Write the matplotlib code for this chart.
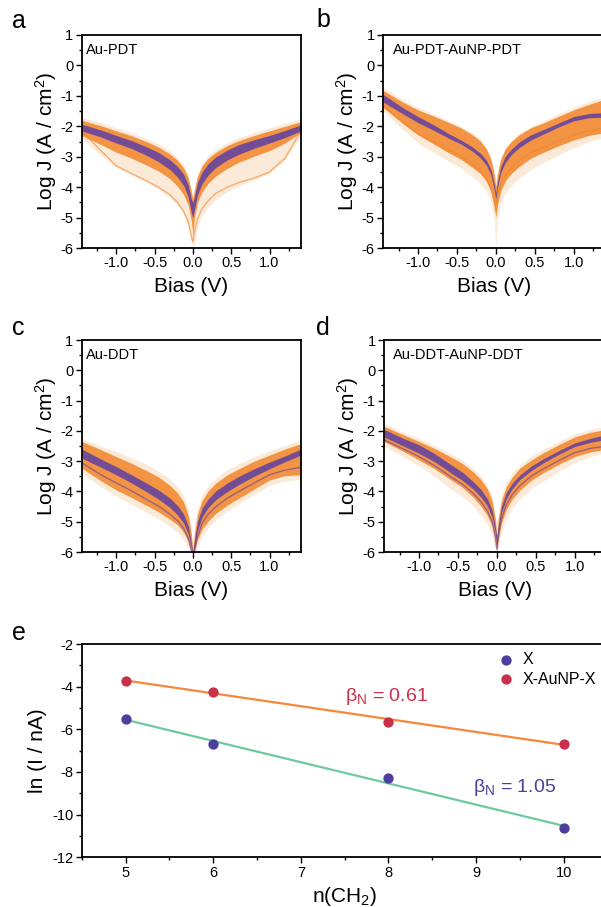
"""J-V 밀도 패널 4개 + ln(I) vs n(CH2) 패널 재현."""
import numpy as np
import matplotlib
matplotlib.use("Agg")
import matplotlib.pyplot as plt
from matplotlib.ticker import MultipleLocator

plt.rcParams["font.family"] = ["Liberation Sans", "DejaVu Sans"]
plt.rcParams["mathtext.fontset"] = "custom"
plt.rcParams["mathtext.rm"] = "Liberation Sans"
plt.rcParams["mathtext.it"] = "Liberation Sans:italic"
plt.rcParams["axes.unicode_minus"] = False

W, H = 601, 907

# ---- J-V 데이터 (그림에서 읽은 값, log J) ----
BIAS = [-1.45, -1.2, -1.0, -0.8, -0.6, -0.45, -0.3, -0.2, -0.12, -0.06, -0.02, 0.0,
        0.02, 0.06, 0.12, 0.2, 0.3, 0.45, 0.6, 0.8, 1.0, 1.2, 1.41]

# Au-PDT
A_HALO_HI = [-1.70, -1.88, -2.05, -2.21, -2.41, -2.58, -2.81, -3.02, -3.27, -3.60, -4.05, -4.3,
             -4.0, -3.55, -3.2, -2.95, -2.75, -2.53, -2.37, -2.2, -2.05, -1.9, -1.75]
A_BAND_HI = [-1.80, -1.98, -2.15, -2.31, -2.51, -2.68, -2.91, -3.12, -3.37, -3.70, -4.15, -4.4,
             -4.1, -3.65, -3.3, -3.05, -2.85, -2.63, -2.47, -2.3, -2.15, -2.0, -1.85]
A_CORE_HI = [-1.93, -2.12, -2.30, -2.47, -2.68, -2.86, -3.10, -3.32, -3.58, -3.93, -4.4, -4.5,
             -4.3, -3.85, -3.5, -3.23, -3.0, -2.78, -2.6, -2.44, -2.3, -2.14, -1.95]
A_CORE_LO = [-2.15, -2.35, -2.55, -2.73, -2.96, -3.16, -3.42, -3.67, -3.95, -4.33, -4.85, -5.0,
             -4.75, -4.25, -3.88, -3.6, -3.35, -3.1, -2.92, -2.72, -2.55, -2.37, -2.15]
A_BAND_LO = [-2.3, -2.6, -2.85, -3.05, -3.28, -3.47, -3.72, -3.97, -4.25, -4.6, -5.1, -5.6,
             -5.0, -4.5, -4.15, -3.87, -3.63, -3.38, -3.18, -2.98, -2.8, -2.55, -2.2]
A_HALO_LO = [-2.4, -2.95, -3.35, -3.6, -3.85, -4.05, -4.35, -4.6, -4.9, -5.3, -5.8, -6.0,
             -5.8, -5.3, -4.95, -4.65, -4.4, -4.15, -3.95, -3.75, -3.55, -3.1, -2.3]
A_LOW = [-2.15, -2.8, -3.3, -3.55, -3.8, -4.0, -4.25, -4.5, -4.8, -5.15, -5.6, -5.8,
         -5.5, -5.05, -4.7, -4.45, -4.2, -4.0, -3.85, -3.7, -3.5, -3.05, -2.15]

# Au-PDT-AuNP-PDT
B_HALO_HI = [-0.72, -1.12, -1.38, -1.6, -1.82, -2.0, -2.22, -2.42, -2.7, -3.05, -3.5, -3.8,
             -3.5, -3.05, -2.7, -2.45, -2.22, -2.0, -1.83, -1.6, -1.38, -1.18, -1.02]
B_BAND_HI = [-0.82, -1.2, -1.46, -1.66, -1.88, -2.05, -2.28, -2.48, -2.75, -3.1, -3.6, -4.0,
             -3.6, -3.1, -2.75, -2.5, -2.28, -2.05, -1.9, -1.68, -1.46, -1.28, -1.1]
B_CORE_HI = [-0.95, -1.38, -1.68, -1.95, -2.25, -2.45, -2.68, -2.88, -3.12, -3.45, -3.9, -4.2,
             -3.85, -3.35, -3.0, -2.75, -2.52, -2.28, -2.12, -1.9, -1.68, -1.58, -1.55]
B_CORE_LO = [-1.2, -1.58, -1.88, -2.13, -2.4, -2.58, -2.82, -3.03, -3.28, -3.62, -4.1, -4.4,
             -4.05, -3.55, -3.2, -2.93, -2.7, -2.45, -2.27, -2.03, -1.82, -1.72, -1.7]
B_BAND_LO = [-1.38, -1.9, -2.28, -2.58, -2.88, -3.08, -3.35, -3.55, -3.82, -4.15, -4.6, -5.0,
             -4.6, -4.15, -3.8, -3.55, -3.32, -3.05, -2.87, -2.65, -2.45, -2.3, -2.2]
B_HALO_LO = [-1.5, -2.1, -2.55, -2.85, -3.15, -3.38, -3.65, -3.88, -4.15, -4.5, -5.1, -6.0,
             -5.1, -4.55, -4.2, -3.95, -3.7, -3.42, -3.2, -2.95, -2.7, -2.5, -2.35]
B_LOW = [-1.3, -1.85, -2.25, -2.5, -2.78, -2.98, -3.25, -3.45, -3.72, -4.05, -4.5, -4.8,
         -4.4, -3.95, -3.6, -3.35, -3.13, -2.87, -2.7, -2.48, -2.28, -2.15, -2.05]

# Au-DDT
C_HALO_HI = [-2.25, -2.5, -2.68, -2.88, -3.12, -3.32, -3.6, -3.85, -4.15, -4.6, -5.2, -5.8,
             -5.2, -4.55, -4.1, -3.8, -3.55, -3.28, -3.08, -2.85, -2.65, -2.48, -2.3]
C_BAND_HI = [-2.35, -2.62, -2.85, -3.07, -3.32, -3.52, -3.8, -4.05, -4.35, -4.8, -5.4, -6.0,
             -5.4, -4.75, -4.3, -3.98, -3.72, -3.45, -3.25, -3.0, -2.8, -2.6, -2.42]
C_CORE_HI = [-2.6, -2.93, -3.18, -3.45, -3.73, -3.95, -4.22, -4.47, -4.75, -5.15, -5.7, -6.0,
             -5.6, -5.0, -4.55, -4.25, -3.98, -3.72, -3.5, -3.25, -3.03, -2.83, -2.6]
C_CORE_LO = [-2.9, -3.2, -3.45, -3.72, -4.02, -4.25, -4.53, -4.77, -5.05, -5.4, -5.85, -6.0,
             -5.85, -5.3, -4.85, -4.53, -4.27, -4.0, -3.77, -3.5, -3.25, -3.02, -2.8]
C_BAND_LO = [-3.23, -3.65, -3.95, -4.2, -4.47, -4.67, -4.92, -5.1, -5.35, -5.65, -6.0, -6.0,
             -6.0, -5.6, -5.25, -4.98, -4.72, -4.45, -4.22, -3.92, -3.62, -3.48, -3.45]
C_HALO_LO = [-3.4, -3.85, -4.15, -4.42, -4.7, -4.9, -5.15, -5.35, -5.6, -5.85, -6.0, -6.0,
             -6.0, -5.85, -5.5, -5.2, -4.95, -4.65, -4.4, -4.1, -3.8, -3.65, -3.6]
C_LOW = [-3.05, -3.45, -3.72, -3.98, -4.27, -4.48, -4.75, -4.97, -5.22, -5.55, -5.95, -6.0,
         -5.95, -5.5, -5.05, -4.75, -4.5, -4.22, -4.0, -3.72, -3.45, -3.3, -3.2]

# Au-DDT-AuNP-DDT
D_HALO_HI = [-1.75, -2.05, -2.25, -2.48, -2.75, -2.95, -3.25, -3.5, -3.8, -4.2, -4.75, -5.0,
             -4.75, -4.15, -3.7, -3.38, -3.1, -2.82, -2.6, -2.35, -2.1, -1.95, -1.85]
D_BAND_HI = [-1.85, -2.13, -2.35, -2.58, -2.85, -3.06, -3.36, -3.62, -3.92, -4.32, -4.9, -5.5,
             -4.9, -4.3, -3.85, -3.52, -3.22, -2.95, -2.72, -2.45, -2.2, -2.05, -1.95]
D_CORE_HI = [-1.95, -2.25, -2.46, -2.75, -3.1, -3.35, -3.68, -3.95, -4.25, -4.62, -5.15, -5.5,
             -5.1, -4.5, -4.05, -3.72, -3.45, -3.15, -2.92, -2.65, -2.4, -2.25, -2.12]
D_CORE_LO = [-2.2, -2.5, -2.74, -3.02, -3.37, -3.62, -3.93, -4.2, -4.48, -4.85, -5.35, -5.8,
             -5.3, -4.7, -4.25, -3.9, -3.6, -3.3, -3.05, -2.77, -2.52, -2.38, -2.28]
D_BAND_LO = [-2.35, -2.68, -2.96, -3.25, -3.6, -3.85, -4.2, -4.5, -4.8, -5.15, -5.6, -6.0,
             -5.6, -5.05, -4.6, -4.25, -3.95, -3.62, -3.38, -3.1, -2.85, -2.7, -2.6]
D_HALO_LO = [-2.5, -2.85, -3.15, -3.5, -3.9, -4.15, -4.5, -4.8, -5.1, -5.45, -5.85, -6.0,
             -5.85, -5.35, -4.9, -4.55, -4.25, -3.9, -3.65, -3.33, -3.05, -2.85, -2.72]
D_LOW = [-2.3, -2.6, -2.85, -3.15, -3.5, -3.75, -4.07, -4.35, -4.65, -5.0, -5.5, -5.9,
         -5.45, -4.9, -4.45, -4.1, -3.8, -3.48, -3.25, -2.98, -2.72, -2.58, -2.5]

# ---- 패널 e 데이터 ----
N_CH2 = [5, 6, 8, 10]
LN_I_X = [-5.53, -6.69, -8.30, -10.64]
LN_I_XNP = [-3.72, -4.24, -5.64, -6.67]

PURPLE = "#5e40a4"
ORANGE = "#f2852a"
PEACH = "#fbd9b8"


def axes_px(left, top, right, bottom):
    return [left / W, 1 - bottom / H, (right - left) / W, (bottom - top) / H]


def style_axes(ax):
    for s in ax.spines.values():
        s.set_linewidth(1.3)
    ax.tick_params(which="both", direction="out", width=1.0, labelsize=10.5, pad=2)
    ax.tick_params(which="major", length=4)
    ax.tick_params(which="minor", length=2.5)


def draw_jv(ax, halo, band, core, low, low_top, title, title_dx):
    ax.fill_between(BIAS, halo[0], halo[1], color=PEACH, alpha=0.55, lw=0)
    if not low_top:
        ax.plot(BIAS, low, color=ORANGE, lw=1.0, alpha=0.6)
    ax.fill_between(BIAS, band[0], band[1], color=ORANGE, alpha=0.85, lw=0)
    if low_top:
        ax.plot(BIAS, low, color=PURPLE, lw=1.0, alpha=0.6)
    ax.fill_between(BIAS, core[0], core[1], color=PURPLE, alpha=0.85, lw=0)
    ax.set_xlim(-1.45, 1.41)
    ax.set_ylim(-6, 1)
    ax.xaxis.set_minor_locator(MultipleLocator(0.25))
    ax.yaxis.set_major_locator(MultipleLocator(1))
    ax.yaxis.set_minor_locator(MultipleLocator(0.5))
    ax.set_xticks([-1.0, -0.5, 0.0, 0.5, 1.0])
    ax.set_xticklabels(["-1.0", "-0.5", "0.0", "0.5", "1.0"])
    ax.set_xlabel("Bias (V)", fontsize=15, labelpad=5)
    ax.set_ylabel("Log J (A / cm$^2$)", fontsize=15, labelpad=1)
    ax.text(title_dx, 0.93, title, transform=ax.transAxes, fontsize=10.5,
            ha="left", va="center")
    style_axes(ax)


fig = plt.figure(figsize=(W / 100, H / 100), dpi=100)

ax_a = fig.add_axes(axes_px(81.7, 35, 301, 248))
ax_b = fig.add_axes(axes_px(383, 35, 605.5, 248))
ax_c = fig.add_axes(axes_px(81.7, 340, 301, 552))
ax_d = fig.add_axes(axes_px(384, 340, 606.5, 552))
ax_e = fig.add_axes(axes_px(81.7, 644, 607.6, 857.3))

draw_jv(ax_a, (A_HALO_HI, A_HALO_LO), (A_BAND_HI, A_BAND_LO),
        (A_CORE_HI, A_CORE_LO), A_LOW, False, "Au-PDT", 0.02)
draw_jv(ax_b, (B_HALO_HI, B_HALO_LO), (B_BAND_HI, B_BAND_LO),
        (B_CORE_HI, B_CORE_LO), B_LOW, False, "Au-PDT-AuNP-PDT", 0.045)
draw_jv(ax_c, (C_HALO_HI, C_HALO_LO), (C_BAND_HI, C_BAND_LO),
        (C_CORE_HI, C_CORE_LO), C_LOW, True, "Au-DDT", 0.02)
draw_jv(ax_d, (D_HALO_HI, D_HALO_LO), (D_BAND_HI, D_BAND_LO),
        (D_CORE_HI, D_CORE_LO), D_LOW, True, "Au-DDT-AuNP-DDT", 0.04)

# ---- 패널 e ----
n = np.array(N_CH2, dtype=float)
xx = np.array([5, 10], dtype=float)
fit_x = np.polyfit(n, LN_I_X, 1)
fit_np = np.polyfit(n, LN_I_XNP, 1)
ax_e.plot(xx, np.polyval(fit_np, xx), color="#f7873a", lw=1.6, zorder=2)
ax_e.plot(xx, np.polyval(fit_x, xx), color="#6fc9a0", lw=1.6, zorder=2)
ax_e.scatter(n, LN_I_X, s=55, color="#4e3f9c", zorder=3, label="X", lw=0)
ax_e.scatter(n, LN_I_XNP, s=55, color="#c9304a", zorder=3, label="X-AuNP-X", lw=0)
ax_e.text(7.5, -4.67, r"β$_{\mathrm{N}}$ = 0.61", color="#c9304a", fontsize=14, va="baseline")
ax_e.text(8.97, -8.94, r"β$_{\mathrm{N}}$ = 1.05", color="#4e3f9c", fontsize=14, va="baseline")
ax_e.set_xlim(4.5, 10.5)
ax_e.set_ylim(-12, -2)
ax_e.xaxis.set_minor_locator(MultipleLocator(0.5))
ax_e.yaxis.set_major_locator(MultipleLocator(2))
ax_e.yaxis.set_minor_locator(MultipleLocator(1))
ax_e.set_xticks([5, 6, 7, 8, 9, 10])
ax_e.set_xlabel("n(CH$_2$)", fontsize=15, labelpad=4)
ax_e.set_ylabel("ln (I / nA)", fontsize=15, labelpad=4)
ax_e.legend(loc="upper left", bbox_to_anchor=(0.775, 1.005), frameon=False,
            fontsize=11.5, handletextpad=0.55, labelspacing=0.3,
            borderaxespad=0.15, handlelength=1.0)
style_axes(ax_e)

# 패널 글자
for letter, x, y in [("a", 12, 28), ("b", 316, 27), ("c", 12, 335),
                     ("d", 316, 335), ("e", 12, 640)]:
    fig.text(x / W, 1 - y / H, letter, fontsize=18, ha="left", va="baseline")

fig.savefig("out.png", dpi=100)
